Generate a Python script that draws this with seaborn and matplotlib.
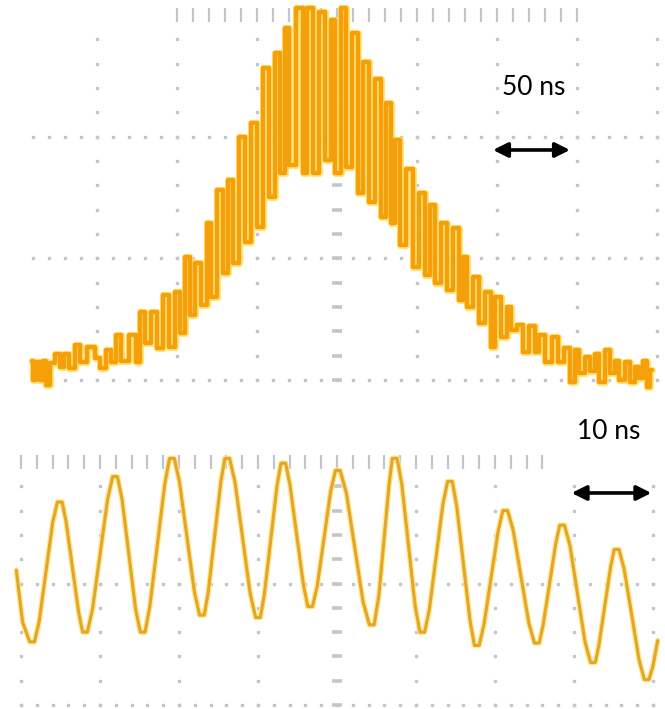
import numpy as np
import pandas as pd
import matplotlib
matplotlib.use("Agg")
import matplotlib.pyplot as plt
import seaborn as sns

# ---------------- data ----------------
# Upper trace: 50 ns / div, amplitude in divisions
top_time_ns = [-190.6, -188.8, -186.9, -184.4, -182.5, -181.3, -177.5, -174.4, -171.9, -168.8,
               -165.6, -161.9, -159.4, -153.1, -150.0, -146.3, -141.9, -140.0, -136.3, -133.8,
               -126.3, -124.4, -121.9, -118.1, -113.8, -110.6, -106.3, -103.1, -100.0, -96.3,
               -93.8, -90.0, -86.9, -83.1, -79.4, -77.5, -73.1, -69.4, -66.9, -62.5,
               -59.4, -55.6, -52.5, -47.5, -45.0, -40.6, -36.9, -33.8, -31.3, -28.1,
               -23.1, -20.0, -16.9, -12.5, -9.4, -5.6, -2.5, 0.6, 3.8, 6.9,
               11.3, 14.4, 17.5, 21.9, 25.6, 28.8, 31.9, 35.0, 38.1, 40.6,
               45.6, 48.8, 53.1, 56.3, 60.0, 63.1, 67.5, 70.6, 73.8, 78.1,
               80.0, 83.1, 87.5, 90.6, 94.4, 97.5, 100.6, 103.8, 108.1, 110.0,
               114.4, 117.5, 121.9, 125.0, 128.1, 131.9, 136.3, 139.4, 143.8, 146.9,
               150.0, 153.1, 156.3, 159.4, 162.5, 165.6, 168.8, 171.9, 175.0, 178.1,
               181.3, 184.4, 187.5, 190.6, 192.5, 194.4, 196.9]
top_signal = [0.16, 0.00, 0.15, 0.00, 0.16, -0.04, 0.14, 0.21, 0.11, 0.21,
              0.10, 0.29, 0.15, 0.27, 0.18, 0.10, 0.25, 0.15, 0.37, 0.16,
              0.37, 0.15, 0.56, 0.30, 0.56, 0.26, 0.70, 0.27, 0.72, 0.39,
              1.01, 0.53, 0.96, 0.62, 1.29, 0.68, 1.56, 0.88, 1.64, 0.96,
              2.00, 1.13, 2.11, 1.26, 2.56, 1.50, 2.69, 1.70, 2.89, 1.77,
              3.06, 1.70, 3.06, 1.70, 3.02, 1.81, 2.96, 1.70, 3.06, 1.75,
              2.85, 1.54, 2.61, 1.46, 2.47, 1.34, 2.28, 1.29, 1.97, 1.11,
              1.73, 0.93, 1.54, 0.86, 1.44, 0.80, 1.29, 0.74, 1.25, 0.66,
              1.01, 0.60, 0.85, 0.47, 0.72, 0.27, 0.68, 0.35, 0.60, 0.41,
              0.45, 0.23, 0.44, 0.23, 0.37, 0.15, 0.35, 0.15, 0.26, -0.02,
              0.25, 0.06, 0.19, 0.07, 0.21, -0.02, 0.25, 0.06, 0.16, 0.00,
              0.15, -0.02, 0.11, 0.02, 0.16, -0.06, 0.08]

# Lower trace: 10 ns / div, amplitude in divisions
bot_time_ns = [-40.6, -39.8, -38.9, -38.3, -37.7, -36.0, -35.4, -34.8, -34.3, -32.7,
               -32.2, -31.6, -30.95, -29.05, -28.4, -27.8, -27.2, -25.5, -24.9, -24.3,
               -23.7, -21.8, -21.2, -20.6, -19.95, -18.05, -17.4, -16.8, -16.3, -14.7,
               -14.2, -13.6, -12.9, -11.0, -10.3, -9.7, -9.2, -7.6, -7.1, -6.5,
               -5.95, -4.25, -3.7, -3.1, -2.5, -0.8, -0.2, 0.4, 1.2, 3.3,
               4.1, 4.7, 5.3, 6.6, 7.0, 7.6, 8.2, 9.9, 10.5, 11.1,
               11.7, 13.4, 14.0, 14.6, 15.15, 16.85, 17.4, 18.0, 18.6, 20.4,
               21.0, 21.6, 22.3, 24.3, 25.0, 25.6, 26.1, 27.7, 28.2, 28.8,
               29.5, 31.4, 32.1, 32.7, 33.15, 34.65, 35.1, 35.7, 36.35, 38.25,
               38.9, 39.5, 40.0, 40.6]
bot_signal = [1.11, 0.68, 0.52, 0.52, 0.69, 1.50, 1.67, 1.67, 1.51, 0.76,
              0.60, 0.60, 0.79, 1.69, 1.88, 1.88, 1.69, 0.79, 0.60, 0.60,
              0.81, 1.82, 2.03, 2.03, 1.84, 0.93, 0.74, 0.74, 0.93, 1.84,
              2.03, 2.03, 1.83, 0.92, 0.72, 0.72, 0.91, 1.80, 1.99, 1.99,
              1.81, 0.99, 0.81, 0.81, 0.98, 1.76, 1.93, 1.93, 1.74, 0.85,
              0.66, 0.66, 0.90, 1.82, 2.03, 2.03, 1.82, 0.81, 0.60, 0.60,
              0.79, 1.65, 1.84, 1.84, 1.64, 0.69, 0.49, 0.49, 0.66, 1.43,
              1.60, 1.60, 1.44, 0.67, 0.51, 0.51, 0.66, 1.33, 1.48, 1.48,
              1.31, 0.52, 0.35, 0.35, 0.49, 1.14, 1.28, 1.28, 1.12, 0.37,
              0.21, 0.21, 0.32, 0.53]

top_scale_label = "50 ns"
bot_scale_label = "10 ns"

top_df = pd.DataFrame({"t": top_time_ns, "v": top_signal})
bot_df = pd.DataFrame({"t": bot_time_ns, "v": bot_signal})

# ---------------- figure ----------------
sns.set_style("white")
plt.rcParams["font.family"] = ["Lato", "DejaVu Sans"]

W, H = 665, 709
fig = plt.figure(figsize=(W / 100, H / 100), dpi=100)
ax_top = fig.add_axes([0, 1 - 400 / H, 1, 400 / H])
ax_bot = fig.add_axes([0, 0, 1, 309 / H])

grid_col = "#c4c4cc"


def graticule(ax, col_times, center_t, row_levels, row_t, tick_level, tick_t, col_v):
    for ct in col_times:
        ax.plot(np.full(len(col_v), ct), col_v, ls="none", marker="s",
                ms=2.0, color=grid_col, zorder=1)
    ax.plot(np.full(len(col_v), center_t), col_v, ls="none", marker="_",
            ms=7, mew=2.6, color=grid_col, zorder=1)
    for rv in row_levels:
        ax.plot(row_t, np.full(len(row_t), rv), ls="none", marker="s",
                ms=2.0, color=grid_col, zorder=1)
    ax.plot(tick_t, np.full(len(tick_t), tick_level), ls="none", marker="|",
            ms=10, mew=1.6, color=grid_col, zorder=1)


graticule(ax_top,
          col_times=[-150, -100, -50, 50, 100, 150, 200],
          center_t=0,
          row_levels=[0, 1, 2],
          row_t=np.arange(-190, 201, 10),
          tick_level=3,
          tick_t=np.arange(-100, 151, 10),
          col_v=np.arange(0, 2.81, 0.2))

graticule(ax_bot,
          col_times=[-40, -30, -20, -10, 10, 20, 30, 40],
          center_t=0,
          row_levels=[0, 1],
          row_t=np.arange(-40, 41, 2),
          tick_level=2,
          tick_t=np.arange(-40, 27, 2),
          col_v=np.arange(0, 1.81, 0.2))

# traces (glow + core)
sns.lineplot(data=top_df, x="t", y="v", ax=ax_top, color="#ffe36e", lw=5.2,
             drawstyle="steps-mid", estimator=None, sort=False, alpha=0.9, zorder=2)
sns.lineplot(data=top_df, x="t", y="v", ax=ax_top, color="#f5a00a", lw=3.2,
             drawstyle="steps-mid", estimator=None, sort=False, zorder=3)

sns.lineplot(data=bot_df, x="t", y="v", ax=ax_bot, color="#ffe680", lw=4.0,
             estimator=None, sort=False, alpha=0.9, zorder=2)
sns.lineplot(data=bot_df, x="t", y="v", ax=ax_bot, color="#e3a52a", lw=2.2,
             estimator=None, sort=False, zorder=3)

ax_top.set_xlim(-337 * 0.625, 328 * 0.625)
ax_top.set_ylim(-20 / 121.7, 380 / 121.7)
ax_bot.set_xlim(-337 * 0.1266, 328 * 0.1266)
ax_bot.set_ylim(-4 / 121.5, 305 / 121.5)

ax_top.annotate("", xy=(97.5, 1.89), xytext=(145.6, 1.89),
                arrowprops=dict(arrowstyle="<|-|>", color="black", lw=2.6,
                                mutation_scale=22, shrinkA=0, shrinkB=0), zorder=5)
ax_top.text(123.1, 2.40, top_scale_label, ha="center", va="center",
            fontsize=19, color="black", zorder=5)

ax_bot.annotate("", xy=(29.7, 1.745), xytext=(39.8, 1.745),
                arrowprops=dict(arrowstyle="<|-|>", color="black", lw=2.6,
                                mutation_scale=22, shrinkA=0, shrinkB=0), zorder=5)
ax_bot.text(34.4, 2.25, bot_scale_label, ha="center", va="center",
            fontsize=19, color="black", zorder=5)

for ax in (ax_top, ax_bot):
    ax.set_axis_off()

fig.savefig("out.png", dpi=100, facecolor="white")
